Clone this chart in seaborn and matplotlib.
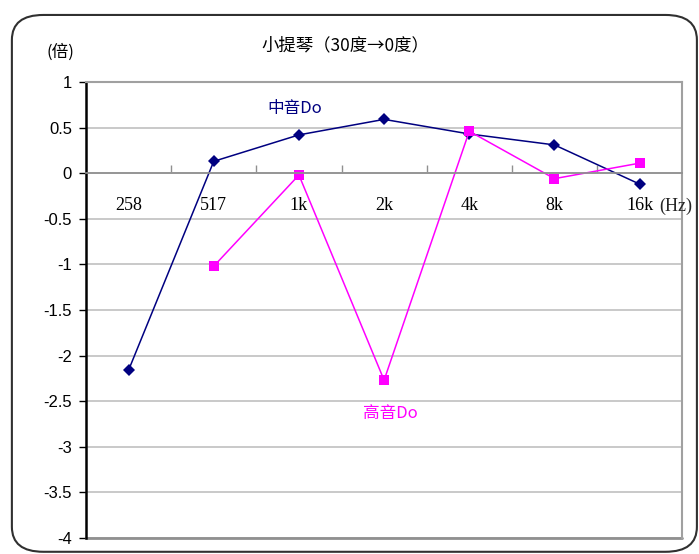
import numpy as np
import pandas as pd
import matplotlib
matplotlib.use('Agg')
import matplotlib.pyplot as plt
from matplotlib.patches import FancyBboxPatch
from matplotlib.ticker import FixedLocator, NullFormatter
import seaborn as sns

# Data
freqs = ['258', '517', '1k', '2k', '4k', '8k', '16k']
mid_do = [-2.16, 0.13, 0.42, 0.59, 0.43, 0.31, -0.12]
high_do = [np.nan, -1.02, -0.02, -2.27, 0.46, -0.06, 0.11]
series_names = ['中音Do', '高音Do']
yticks = np.arange(-4, 1.01, 0.5)

df = pd.DataFrame({
    'pos': list(range(len(freqs))) * 2,
    'freq': freqs * 2,
    'value': mid_do + high_do,
    'series': [series_names[0]] * len(freqs) + [series_names[1]] * len(freqs),
})

sns.set_theme(style="white")
plt.rcParams['font.family'] = ['Noto Sans CJK TC', 'DejaVu Sans']

fig = plt.figure(figsize=(6.99, 5.54), dpi=100)
ax = fig.add_axes([0.123, 0.029, 0.853, 0.823])

colors = {'中音Do': '#000080', '高音Do': '#ff00ff'}
sns.lineplot(data=df, x='pos', y='value', hue='series', style='series',
             palette=colors, markers={'中音Do': 'D', '高音Do': 's'},
             dashes=False, linewidth=1.1, markersize=7.5, markeredgewidth=0,
             legend=False, ax=ax)
# diamond a bit smaller
for line in ax.lines:
    if line.get_marker() == 'D':
        line.set_markersize(6.5)

ax.set_xlim(-0.5, len(freqs) - 0.5)
ax.set_ylim(-4, 1)
ax.set_yticks(yticks)
ax.set_yticklabels([f'{v:g}' for v in yticks], fontsize=12,
                   family=['Liberation Sans', 'DejaVu Sans'])
ax.yaxis.grid(True, color='#c0c0c0', linewidth=1.2)
ax.set_axisbelow(True)
ax.tick_params(axis='y', which='major', direction='out', length=5, width=1,
               color='black', pad=5, left=True, labelcolor='black')

# x axis crosses at 0, tick marks between categories
ax.spines['bottom'].set_position(('data', 0))
ax.spines['bottom'].set_color('#909090')
ax.xaxis.set_major_locator(FixedLocator(np.arange(0.5, len(freqs) - 0.5, 1)))
ax.xaxis.set_major_formatter(NullFormatter())
ax.set_xticks(np.arange(len(freqs)), minor=True)
ax.set_xticklabels(freqs, minor=True, fontsize=13,
                   family=['Liberation Serif', 'DejaVu Serif'])
ax.tick_params(axis='x', which='major', direction='in', length=6, width=1,
               color='#909090', bottom=True)
ax.tick_params(axis='x', which='minor', length=0, pad=17, labelcolor='black')
ax.annotate('(Hz)', xy=(len(freqs) - 1, 0), xytext=(14, -24),
            textcoords='offset points', fontsize=13, va='center', ha='left',
            family=['Liberation Serif', 'DejaVu Serif'], annotation_clip=False)

ax.spines['left'].set_color('black')
ax.spines['left'].set_linewidth(1.8)
ax.spines['top'].set_color('#a0a0a0')
ax.spines['right'].set_color('#a0a0a0')
ax.spines['top'].set_linewidth(1.5)
ax.spines['right'].set_linewidth(1.5)
ax.axhline(-4, color='#909090', linewidth=2, clip_on=False)
ax.set_xlabel('')
ax.set_ylabel('')

# series labels
ax.text(1.95, 0.71, series_names[0], color='#000080', fontsize=12,
        ha='center', va='center')
ax.text(3.07, -2.63, series_names[1], color='#ff00ff', fontsize=12,
        ha='center', va='center')

fig.text(0.494, 0.918, '小提琴（30度→0度）', fontsize=12.5, ha='center',
         va='center', color='black')
fig.text(0.086, 0.906, '(倍)', fontsize=12, ha='center', va='center',
         color='black')

# rounded outer frame
frame = FancyBboxPatch((0.017, 0.004), 0.98, 0.969,
                       boxstyle='round,pad=0,rounding_size=0.045',
                       transform=fig.transFigure, fill=False,
                       edgecolor='#303030', linewidth=1.5, clip_on=False)
fig.patches.append(frame)

fig.savefig('out.png', dpi=100)
